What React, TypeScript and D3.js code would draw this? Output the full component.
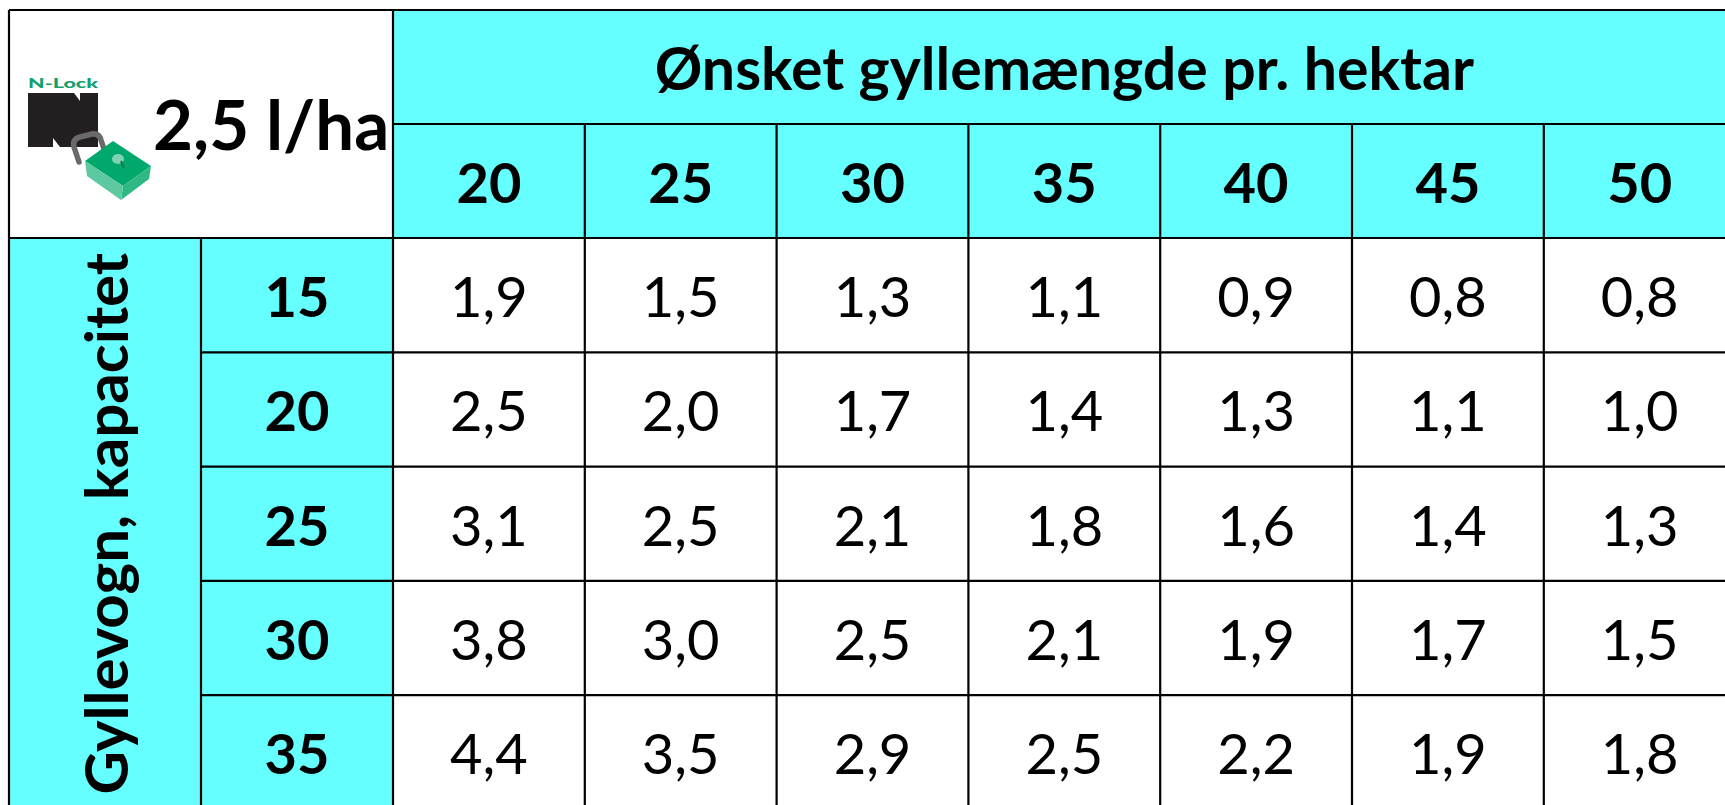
import React, { useRef, useEffect } from 'react';
import * as d3 from 'd3';

// Desired slurry amount per hectare (column headers)
const rateColumns = [20, 25, 30, 35, 40, 45, 50];
// Slurry tanker capacity (row headers)
const capacityRows = [15, 20, 25, 30, 35];
// Table values, one array per capacity row
const row15 = [1.9, 1.5, 1.3, 1.1, 0.9, 0.8, 0.8];
const row20 = [2.5, 2.0, 1.7, 1.4, 1.3, 1.1, 1.0];
const row25 = [3.1, 2.5, 2.1, 1.8, 1.6, 1.4, 1.3];
const row30 = [3.8, 3.0, 2.5, 2.1, 1.9, 1.7, 1.5];
const row35 = [4.4, 3.5, 2.9, 2.5, 2.2, 1.9, 1.8];
const tableRows = [row15, row20, row25, row30, row35];

const titleText = 'Ønsket gyllemængde pr. hektar';
const rowLabelText = 'Gyllevogn, kapacitet';
const doseText = '2,5 l/ha';

const CYAN = '#66FFFF';
const FONT = 'Lato, "Open Sans", sans-serif';

const W = 1725;
const H = 805;

const App: React.FC = () => {
  const svgRef = useRef<SVGSVGElement | null>(null);

  useEffect(() => {
    const svg = d3.select(svgRef.current);
    svg.selectAll('*').remove();

    const left = 9;
    const top = 10;
    const labelColRight = 201;
    const headerColRight = 393;
    const colStep = 191.8;
    const headRow = 114;
    const rowStep = 114.3;

    const x = d3.scaleBand<number>()
      .domain(rateColumns)
      .range([headerColRight, headerColRight + colStep * rateColumns.length]);
    const y = d3.scaleBand<number>()
      .domain(capacityRows)
      .range([top + 2 * headRow, top + 2 * headRow + rowStep * capacityRows.length]);

    const tableRight = x.range()[1];
    const tableBottom = y.range()[1];
    const fmt = (v: number) => d3.format('.1f')(v).replace('.', ',');

    const g = svg.append('g');

    // backgrounds
    g.append('rect')
      .attr('x', left).attr('y', top)
      .attr('width', headerColRight - left).attr('height', 2 * headRow)
      .attr('fill', '#fff');
    g.append('rect')
      .attr('x', headerColRight).attr('y', top)
      .attr('width', tableRight - headerColRight).attr('height', 2 * headRow)
      .attr('fill', CYAN);
    g.append('rect')
      .attr('x', left).attr('y', y.range()[0])
      .attr('width', headerColRight - left).attr('height', tableBottom - y.range()[0])
      .attr('fill', CYAN);

    // body cells
    capacityRows.forEach((r, i) => {
      rateColumns.forEach((c, j) => {
        g.append('rect')
          .attr('x', x(c)!)
          .attr('y', y(r)!)
          .attr('width', x.bandwidth())
          .attr('height', y.bandwidth())
          .attr('fill', '#fff');
        g.append('text')
          .attr('x', x(c)! + x.bandwidth() / 2)
          .attr('y', y(r)! + y.bandwidth() / 2 + 22)
          .attr('text-anchor', 'middle')
          .attr('font-family', FONT)
          .attr('font-size', 56)
          .attr('fill', '#000')
          .text(fmt(tableRows[i][j]));
      });
    });

    // grid lines
    const lines = g.append('g').attr('stroke', '#000').attr('stroke-width', 2.2);
    // outer top / left
    lines.append('line').attr('x1', left).attr('x2', tableRight).attr('y1', top).attr('y2', top);
    lines.append('line').attr('x1', left).attr('x2', left).attr('y1', top).attr('y2', tableBottom);
    // header rows
    lines.append('line').attr('x1', headerColRight).attr('x2', tableRight)
      .attr('y1', top + headRow).attr('y2', top + headRow);
    lines.append('line').attr('x1', left).attr('x2', tableRight)
      .attr('y1', y.range()[0]).attr('y2', y.range()[0]);
    // row separators
    capacityRows.forEach((r) => {
      lines.append('line').attr('x1', labelColRight).attr('x2', tableRight)
        .attr('y1', y(r)! + y.bandwidth()).attr('y2', y(r)! + y.bandwidth());
    });
    // column separators
    lines.append('line').attr('x1', labelColRight).attr('x2', labelColRight)
      .attr('y1', y.range()[0]).attr('y2', tableBottom);
    lines.append('line').attr('x1', headerColRight).attr('x2', headerColRight)
      .attr('y1', top).attr('y2', tableBottom);
    rateColumns.forEach((c) => {
      lines.append('line')
        .attr('x1', x(c)! + x.bandwidth()).attr('x2', x(c)! + x.bandwidth())
        .attr('y1', top + headRow).attr('y2', tableBottom);
    });

    // header texts
    g.append('text')
      .attr('x', (headerColRight + tableRight) / 2)
      .attr('y', top + 80)
      .attr('text-anchor', 'middle')
      .attr('font-family', FONT)
      .attr('font-weight', 'bold')
      .attr('font-size', 59)
      .text(titleText);

    rateColumns.forEach((c) => {
      g.append('text')
        .attr('x', x(c)! + x.bandwidth() / 2)
        .attr('y', top + headRow + 79)
        .attr('text-anchor', 'middle')
        .attr('font-family', FONT)
        .attr('font-weight', 'bold')
        .attr('font-size', 56)
        .text(String(c));
    });

    capacityRows.forEach((r) => {
      g.append('text')
        .attr('x', (labelColRight + headerColRight) / 2)
        .attr('y', y(r)! + y.bandwidth() / 2 + 22)
        .attr('text-anchor', 'middle')
        .attr('font-family', FONT)
        .attr('font-weight', 'bold')
        .attr('font-size', 56)
        .text(String(r));
    });

    g.append('text')
      .attr('transform', `translate(128,${(y.range()[0] + tableBottom) / 2}) rotate(-90)`)
      .attr('text-anchor', 'middle')
      .attr('font-family', FONT)
      .attr('font-weight', 'bold')
      .attr('font-size', 60)
      .text(rowLabelText);

    g.append('text')
      .attr('x', 153)
      .attr('y', 150)
      .attr('font-family', FONT)
      .attr('font-weight', 'bold')
      .attr('font-size', 69)
      .text(doseText);

    // N-Lock logo
    const logo = g.append('g');
    logo.append('text')
      .attr('x', 28).attr('y', 88)
      .attr('font-family', FONT)
      .attr('font-weight', 900)
      .attr('font-size', 14)
      .attr('fill', '#12a070')
      .attr('textLength', 70)
      .attr('lengthAdjust', 'spacingAndGlyphs')
      .text('N-Lock');
    logo.append('polygon')
      .attr('points', '28,93 74,93 80,101 80,93 98,93 98,147 60,147 53,138 53,147 28,147')
      .attr('fill', '#231f20');
    // shackle
    logo.append('path')
      .attr('d', 'M79,162 L74,147 Q72,139 80,137 L92,134 Q99,133 101,140 L105,152')
      .attr('fill', 'none')
      .attr('stroke', '#6a6a6a')
      .attr('stroke-width', 5.5)
      .attr('stroke-linecap', 'round');
    // padlock body
    logo.append('polygon')
      .attr('points', '85,161 113,141 151,166 123,186')
      .attr('fill', '#00a86b');
    logo.append('polygon')
      .attr('points', '123,186 151,166 149,179 121,200')
      .attr('fill', '#2fb883');
    logo.append('polygon')
      .attr('points', '85,161 123,186 121,200 87,176')
      .attr('fill', '#5cc9a0');
    logo.append('ellipse')
      .attr('cx', 118).attr('cy', 159)
      .attr('rx', 6).attr('ry', 5)
      .attr('fill', '#7fd3b2');
    logo.append('line')
      .attr('x1', 121).attr('y1', 161).attr('x2', 124).attr('y2', 168)
      .attr('stroke', '#0a7a50').attr('stroke-width', 2);
  }, []);

  return (
    <svg
      ref={svgRef}
      width={W}
      height={H}
      style={{ position: 'fixed', left: 0, top: 0, background: '#fff' }}
    />
  );
};

export default App;
